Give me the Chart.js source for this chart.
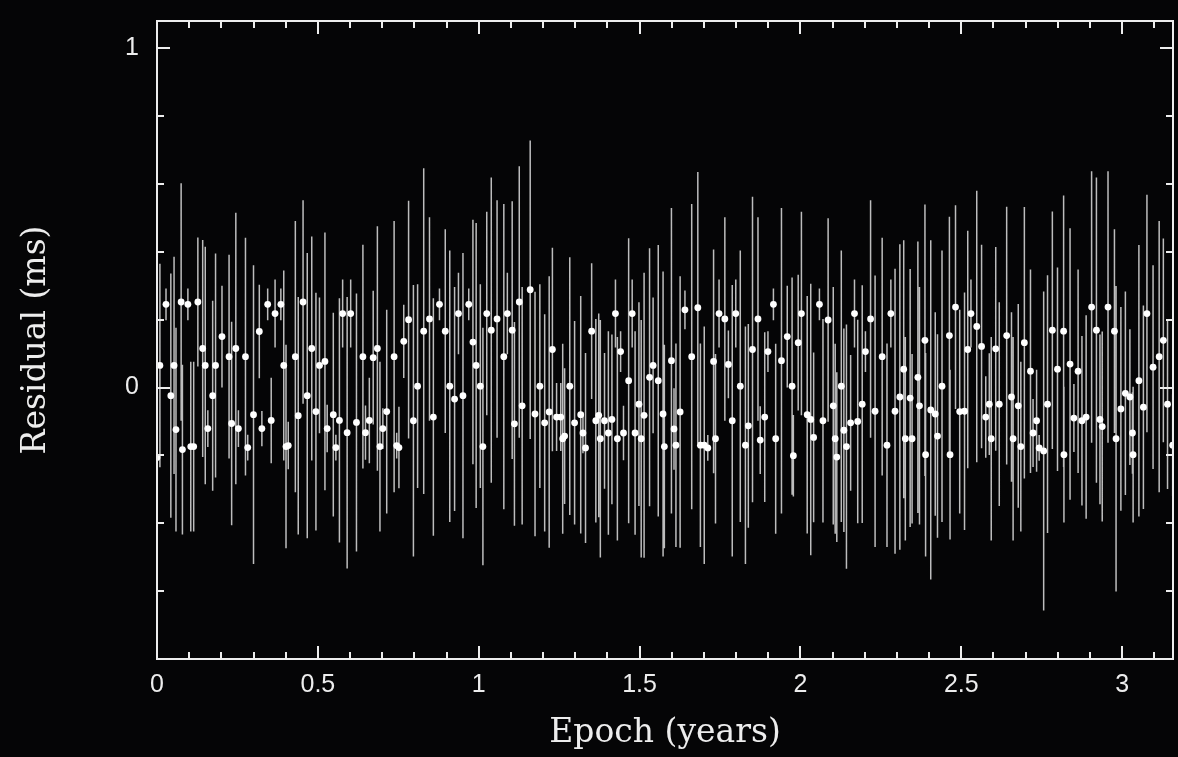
<!DOCTYPE html>
<html>
<head>
<meta charset="utf-8">
<title>Timing residuals</title>
<script src="https://cdn.jsdelivr.net/npm/chart.js@4.4.0/dist/chart.umd.min.js"></script>
<style>
  html, body { margin: 0; padding: 0; background: #050506; }
  #wrap { width: 1178px; height: 757px; }
</style>
</head>
<body>
<div id="wrap"><canvas id="residuals" width="1178" height="757"></canvas></div>
<script>
// epoch of each TOA, in years
var epochs = [
    0.000, 0.009, 0.028, 0.043, 0.053, 0.059, 0.075, 0.079,
    0.096, 0.105, 0.114, 0.127, 0.142, 0.150, 0.158, 0.173,
    0.182, 0.202, 0.224, 0.232, 0.245, 0.253, 0.275, 0.282,
    0.300, 0.318, 0.326, 0.344, 0.355, 0.367, 0.385, 0.394,
    0.401, 0.408, 0.430, 0.439, 0.454, 0.467, 0.481, 0.494,
    0.505, 0.522, 0.529, 0.548, 0.556, 0.567, 0.577, 0.591,
    0.602, 0.620, 0.640, 0.648, 0.660, 0.672, 0.685, 0.693,
    0.702, 0.714, 0.737, 0.745, 0.752, 0.767, 0.782,

    0.797, 0.810, 0.829, 0.847, 0.859, 0.878, 0.896, 0.910,
    0.925, 0.937, 0.951, 0.969, 0.982, 0.992, 1.005, 1.013,
    1.025, 1.039, 1.057, 1.078, 1.089, 1.104, 1.111, 1.126,
    1.135, 1.160, 1.175, 1.190, 1.205, 1.219, 1.229, 1.242,
    1.255, 1.261, 1.267, 1.283, 1.298, 1.317, 1.324, 1.332,
    1.351, 1.364, 1.373, 1.378, 1.391, 1.403, 1.414, 1.425,
    1.431, 1.441, 1.450, 1.466, 1.477, 1.486, 1.498, 1.505,
    1.514, 1.531, 1.542, 1.558, 1.573, 1.577,

    1.599, 1.607, 1.613, 1.626, 1.641, 1.662, 1.681, 1.689,
    1.701, 1.712, 1.730, 1.736, 1.747, 1.765, 1.776, 1.788,
    1.799, 1.813, 1.829, 1.838, 1.851, 1.868, 1.875, 1.889,
    1.899, 1.916, 1.923, 1.941, 1.959, 1.974, 1.978, 1.993,
    2.003, 2.021, 2.032, 2.041, 2.059, 2.070, 2.086, 2.102,
    2.108, 2.113, 2.127, 2.135, 2.143, 2.156, 2.168, 2.178,
    2.192, 2.202, 2.218, 2.232, 2.254, 2.269, 2.281, 2.294,
    2.309, 2.321, 2.326, 2.341, 2.347, 2.365, 2.370,

    2.387, 2.389, 2.405, 2.419, 2.426, 2.440, 2.463, 2.465,
    2.482, 2.495, 2.510, 2.520, 2.530, 2.548, 2.563, 2.576,
    2.587, 2.593, 2.607, 2.618, 2.641, 2.656, 2.661, 2.677,
    2.685, 2.696, 2.715, 2.723, 2.734, 2.742, 2.756, 2.768,
    2.783, 2.799, 2.818, 2.819, 2.838, 2.850, 2.863, 2.875,
    2.888, 2.905, 2.920, 2.931, 2.938, 2.956, 2.976, 2.981,
    2.996, 3.010, 3.024, 3.032, 3.034, 3.052, 3.066, 3.077,
    3.096, 3.115, 3.128, 3.141, 3.157
];

// post-fit residual, ms
var residuals = [
    -0.206, 0.065, 0.245, -0.024, 0.065, -0.124, 0.252, -0.183,
    0.245, -0.174, -0.174, 0.252, 0.115, 0.065, -0.121, -0.024,
    0.065, 0.150, 0.091, -0.106, 0.115, -0.121, 0.091, -0.177,
    -0.080, 0.165, -0.121, 0.245, -0.097, 0.218, 0.245, 0.065,
    -0.174, -0.171, 0.091, -0.083, 0.252, -0.024, 0.115, -0.071,
    0.065, 0.077, -0.121, -0.080, -0.177, -0.097, 0.218, -0.133,
    0.218, -0.103, 0.091, -0.133, -0.097, 0.088, 0.115, -0.174,
    -0.121, -0.071, 0.091, -0.171, -0.177, 0.136, 0.200,

    -0.098, 0.004, 0.166, 0.202, -0.087, 0.245, 0.166, 0.004,
    -0.034, 0.218, -0.024, 0.245, 0.134, 0.065, 0.004, -0.174,
    0.218, 0.169, 0.202, 0.091, 0.218, 0.169, -0.107, 0.252,
    -0.054, 0.288, -0.078, 0.004, -0.104, -0.072, 0.112, -0.087,
    -0.087, -0.151, -0.143, 0.004, -0.104, -0.080, -0.134, -0.178,
    0.166, -0.098, -0.082, -0.151, -0.098, -0.134, -0.094, 0.218,
    -0.151, 0.106, -0.134, 0.020, 0.218, -0.134, -0.049, -0.151,
    -0.082, 0.030, 0.065, 0.020, -0.078, -0.174,

    0.079, -0.122, -0.170, -0.072, 0.229, 0.091, 0.235, -0.170,
    -0.170, -0.178, 0.077, -0.151, 0.218, 0.202, 0.068, -0.098,
    0.218, 0.004, -0.170, -0.113, 0.112, 0.202, -0.155, -0.087,
    0.106, 0.245, -0.151, 0.079, 0.150, 0.004, -0.201, 0.132,
    0.218, -0.080, -0.094, -0.147, 0.245, -0.098, 0.199, -0.054,
    -0.151, -0.205, 0.004, -0.126, -0.174, -0.104, 0.218, -0.100,
    -0.049, 0.106, 0.202, -0.070, 0.091, -0.170, 0.218, -0.070,
    -0.028, 0.054, -0.151, -0.031, -0.151, 0.030, -0.054,

    0.139, -0.198, -0.066, -0.078, -0.143, 0.004, 0.153, -0.198,
    0.237, -0.071, -0.070, 0.112, 0.218, 0.180, 0.121, -0.087,
    -0.049, -0.151, 0.114, -0.049, 0.153, -0.028, -0.151, -0.054,
    -0.174, 0.132, 0.048, -0.134, -0.098, -0.178, -0.187, -0.049,
    0.169, 0.054, 0.166, -0.198, 0.069, -0.090, 0.048, -0.098,
    -0.087, 0.237, 0.169, -0.094, -0.115, 0.237, 0.166, -0.151,
    -0.063, -0.017, -0.028, -0.134, -0.198, 0.020, -0.058, 0.218,
    0.060, 0.091, 0.139, -0.049, -0.170
];

// 1-sigma TOA uncertainty, ms
var errors = [
    0.30, 0.30, 0.047, 0.36, 0.32, 0.30, 0.35, 0.25,
    0.047, 0.25, 0.25, 0.19, 0.32, 0.35, 0.054, 0.28,
    0.33, 0.15, 0.30, 0.30, 0.40, 0.054, 0.35, 0.038,
    0.44, 0.138, 0.052, 0.047, 0.126, 0.10, 0.047, 0.28,
    0.30, 0.07, 0.40, 0.35, 0.30, 0.42, 0.33, 0.35,
    0.20, 0.38, 0.07, 0.30, 0.038, 0.36, 0.10, 0.40,
    0.10, 0.38, 0.33, 0.08, 0.126, 0.197, 0.36, 0.25,
    0.06, 0.30, 0.40, 0.038, 0.12, 0.108, 0.35,

    0.40, 0.30, 0.48, 0.30, 0.35, 0.047, 0.30, 0.40,
    0.33, 0.12, 0.42, 0.047, 0.36, 0.42, 0.30, 0.35,
    0.30, 0.45, 0.35, 0.45, 0.12, 0.38, 0.30, 0.40,
    0.35, 0.44, 0.36, 0.30, 0.32, 0.40, 0.30, 0.10,
    0.10, 0.28, 0.20, 0.38, 0.30, 0.35, 0.06, 0.28,
    0.20, 0.30, 0.30, 0.35, 0.20, 0.30, 0.25, 0.10,
    0.30, 0.06, 0.08, 0.42, 0.10, 0.30, 0.30, 0.35,
    0.42, 0.38, 0.20, 0.40, 0.42, 0.30,

    0.45, 0.12, 0.30, 0.40, 0.057, 0.45, 0.40, 0.30,
    0.35, 0.038, 0.33, 0.25, 0.10, 0.30, 0.10, 0.40,
    0.10, 0.40, 0.35, 0.30, 0.45, 0.30, 0.10, 0.25,
    0.06, 0.047, 0.28, 0.45, 0.15, 0.32, 0.12, 0.20,
    0.30, 0.35, 0.40, 0.25, 0.047, 0.30, 0.30, 0.35,
    0.28, 0.25, 0.40, 0.30, 0.36, 0.20, 0.10, 0.30,
    0.35, 0.06, 0.35, 0.40, 0.35, 0.30, 0.10, 0.42,
    0.45, 0.38, 0.30, 0.38, 0.25, 0.40, 0.35,

    0.40, 0.30, 0.50, 0.30, 0.30, 0.40, 0.35, 0.25,
    0.30, 0.30, 0.35, 0.35, 0.10, 0.40, 0.30, 0.12,
    0.15, 0.30, 0.30, 0.30, 0.38, 0.25, 0.30, 0.30,
    0.25, 0.40, 0.30, 0.10, 0.15, 0.038, 0.47, 0.38,
    0.35, 0.30, 0.40, 0.20, 0.40, 0.10, 0.30, 0.25,
    0.30, 0.40, 0.45, 0.25, 0.28, 0.40, 0.30, 0.45,
    0.30, 0.30, 0.20, 0.12, 0.20, 0.40, 0.30, 0.35,
    0.30, 0.40, 0.30, 0.25, 0.15
];

var xRange = [0, 3.158];
var yRange = [-0.8, 1.08];

var ink = '#ededed';

function scatterPoints() {
    var pts = [];
    for (var i = 0; i < epochs.length; i++) {
        pts.push({ x: epochs[i], y: residuals[i] });
    }
    return pts;
}

// vertical error bar through every point
var errorBars = {
    id: 'errorBars',
    beforeDatasetsDraw: function (chart) {
        var ctx = chart.ctx, a = chart.chartArea;
        var xs = chart.scales.x, ys = chart.scales.y;
        ctx.save();
        ctx.beginPath();
        ctx.rect(a.left, a.top, a.right - a.left, a.bottom - a.top);
        ctx.clip();
        ctx.strokeStyle = 'rgba(215,215,215,0.88)';
        ctx.lineWidth = 1.5;
        ctx.beginPath();
        for (var i = 0; i < epochs.length; i++) {
            var px = xs.getPixelForValue(epochs[i]);
            ctx.moveTo(px, ys.getPixelForValue(residuals[i] + errors[i]));
            ctx.lineTo(px, ys.getPixelForValue(residuals[i] - errors[i]));
        }
        ctx.stroke();
        ctx.restore();
    }
};

// box round the plot with inward ticks on all four sides
var frame = {
    id: 'frame',
    afterDatasetsDraw: function (chart) {
        var ctx = chart.ctx, a = chart.chartArea;
        var xs = chart.scales.x, ys = chart.scales.y;
        ctx.save();
        ctx.strokeStyle = ink;
        ctx.lineWidth = 2;
        ctx.strokeRect(a.left, a.top, a.right - a.left, a.bottom - a.top);
        ctx.beginPath();
        for (var k = 0; k <= 31; k++) {
            var len = k % 5 === 0 ? 13 : 7;
            var px = Math.round(xs.getPixelForValue(k / 10));
            ctx.moveTo(px, a.bottom); ctx.lineTo(px, a.bottom - len);
            ctx.moveTo(px, a.top); ctx.lineTo(px, a.top + len);
        }
        for (var j = -4; j <= 5; j++) {
            var ylen = j % 5 === 0 ? 13 : 7;
            var py = Math.round(ys.getPixelForValue(j / 5));
            ctx.moveTo(a.left, py); ctx.lineTo(a.left + ylen, py);
            ctx.moveTo(a.right, py); ctx.lineTo(a.right - ylen, py);
        }
        ctx.stroke();
        ctx.restore();
    }
};

var background = {
    id: 'background',
    beforeDraw: function (chart) {
        var ctx = chart.ctx;
        ctx.save();
        ctx.fillStyle = '#050506';
        ctx.fillRect(0, 0, chart.width, chart.height);
        ctx.restore();
    }
};

function near(v, t) { return Math.abs(v - t) < 1e-6; }

var chartOptions = {
    type: 'scatter',
    data: {
        datasets: [
            {
                data: scatterPoints(),
                pointRadius: 3.4,
                pointBorderWidth: 0,
                pointBackgroundColor: '#ffffff',
                pointHoverRadius: 3.4
            }
        ]
    },
    options: {
        responsive: false,
        animation: false,
        devicePixelRatio: 1,
        layout: { padding: { left: 0, right: 5, top: 21, bottom: 0 } },
        plugins: {
            legend: { display: false },
            tooltip: { enabled: false }
        },
        scales: {
            x: {
                type: 'linear',
                min: xRange[0],
                max: xRange[1],
                afterFit: function (scale) {
                    scale.height = 98;
                    scale.paddingLeft = 0;
                    scale.paddingRight = 0;
                },
                grid: { display: false, drawTicks: false },
                border: { display: false },
                ticks: {
                    stepSize: 0.5,
                    includeBounds: false,
                    autoSkip: false,
                    maxRotation: 0,
                    padding: 11,
                    color: ink,
                    font: { family: 'Liberation Sans', size: 25 },
                    callback: function (v) {
                        return near(v * 2, Math.round(v * 2)) ? String(Math.round(v * 2) / 2) : '';
                    }
                },
                title: {
                    display: true,
                    text: 'Epoch (years)',
                    color: ink,
                    font: { family: 'DejaVu Serif', size: 33 },
                    padding: { top: 0, bottom: 4 }
                }
            },
            y: {
                type: 'linear',
                min: yRange[0],
                max: yRange[1],
                afterFit: function (scale) {
                    scale.width = 157;
                    scale.paddingTop = 0;
                    scale.paddingBottom = 0;
                },
                grid: { display: false, drawTicks: false },
                border: { display: false },
                ticks: {
                    stepSize: 0.2,
                    includeBounds: false,
                    autoSkip: false,
                    padding: 18,
                    color: ink,
                    font: { family: 'Liberation Sans', size: 25 },
                    callback: function (v) {
                        if (near(v, 0)) return '0';
                        if (near(v, 1)) return '1';
                        return '';
                    }
                },
                title: {
                    display: true,
                    text: 'Residual (ms)',
                    color: ink,
                    font: { family: 'DejaVu Serif', size: 33 },
                    padding: { top: 17, bottom: 0 }
                }
            }
        }
    },
    plugins: [background, errorBars, frame]
};

var residualCtx = document.getElementById('residuals');
var residualChart = new Chart(residualCtx, chartOptions);
</script>
</body>
</html>
